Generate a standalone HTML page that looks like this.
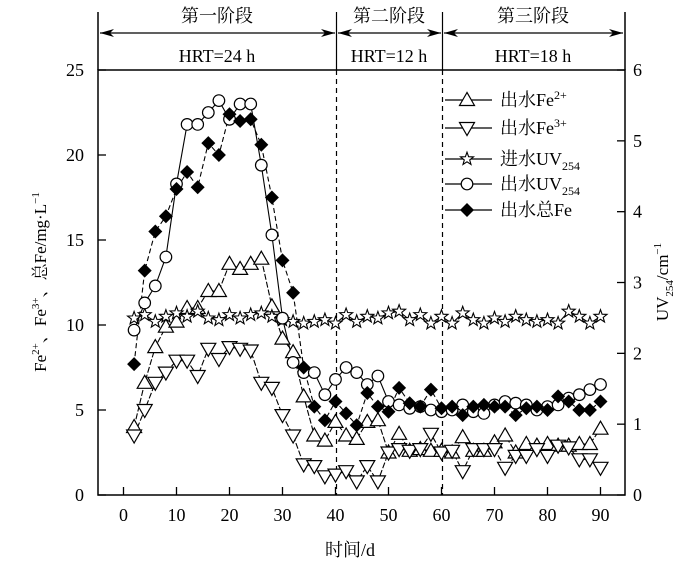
<!DOCTYPE html>
<html><head><meta charset="utf-8"><style>
body{margin:0;background:#fff}
svg{display:block}
text{font-family:"Liberation Serif","Noto Serif CJK SC","Noto Sans CJK SC",serif;fill:#000}
</style></head><body>
<svg id="s" width="700" height="568" viewBox="0 0 700 568" xmlns="http://www.w3.org/2000/svg">
<defs>
<marker id="ah" markerWidth="14" markerHeight="8" refX="14" refY="4" orient="auto-start-reverse" markerUnits="userSpaceOnUse"><path d="M0,0 L14,4 L0,8 L4,4 Z" fill="#000"/></marker>
</defs>
<g stroke="#000" stroke-width="1.5" fill="none">
<rect x="98" y="70" width="527" height="425"/>
<line x1="98" y1="12" x2="98" y2="70"/>
<line x1="625" y1="12" x2="625" y2="70"/>
<line x1="336.5" y1="12" x2="336.5" y2="70" stroke-width="1.2"/>
<line x1="442.5" y1="12" x2="442.5" y2="70" stroke-width="1.2"/>
<line x1="100" y1="33" x2="335" y2="33" stroke-width="1.2" marker-start="url(#ah)" marker-end="url(#ah)"/>
<line x1="338" y1="33" x2="441" y2="33" stroke-width="1.2" marker-start="url(#ah)" marker-end="url(#ah)"/>
<line x1="444" y1="33" x2="623" y2="33" stroke-width="1.2" marker-start="url(#ah)" marker-end="url(#ah)"/>
<line x1="336.5" y1="70" x2="336.5" y2="495" stroke-width="1.2" stroke-dasharray="5,4"/>
<line x1="442.5" y1="70" x2="442.5" y2="495" stroke-width="1.2" stroke-dasharray="5,4"/>
</g>
<g font-size="18" text-anchor="middle">
<text x="217" y="22">第一阶段</text>
<text x="389" y="22">第二阶段</text>
<text x="533" y="22">第三阶段</text>
<text x="217" y="62">HRT=24 h</text>
<text x="389" y="62">HRT=12 h</text>
<text x="533" y="62">HRT=18 h</text>
<text x="350" y="556">时间/d</text>
</g>
<g id="ax"></g>
<g id="data"></g>
<text transform="translate(46,282) rotate(-90)" font-size="17" text-anchor="middle">Fe<tspan font-size="11" dy="-7">2+</tspan><tspan dy="7">、Fe</tspan><tspan font-size="11" dy="-7">3+</tspan><tspan dy="7">、总Fe/mg·L</tspan><tspan font-size="11" dy="-7">−1</tspan></text>
<text transform="translate(668,282) rotate(-90)" font-size="17" text-anchor="middle">UV<tspan font-size="11" dy="5">254</tspan><tspan dy="-5">/cm</tspan><tspan font-size="11" dy="-7">−1</tspan></text>
<g font-size="18">
<text x="500" y="106">出水Fe<tspan font-size="12" dy="-7">2+</tspan></text>
<text x="500" y="134">出水Fe<tspan font-size="12" dy="-7">3+</tspan></text>
<text x="500" y="165">进水UV<tspan font-size="12" dy="5">254</tspan></text>
<text x="500" y="190">出水UV<tspan font-size="12" dy="5">254</tspan></text>
<text x="500" y="216">出水总Fe</text>
</g>
</svg>
<script>
const X=d=>123.5+5.3*d, Y=v=>495-17*v;
let h="";
for(let i=0;i<=90;i+=10){h+=`<line x1="${X(i)}" y1="495" x2="${X(i)}" y2="487" stroke="#000" stroke-width="1.3"/><text x="${X(i)}" y="521" font-size="18" text-anchor="middle">${i}</text>`;}
for(let v=0;v<=25;v+=5){h+=`<line x1="98" y1="${Y(v)}" x2="106" y2="${Y(v)}" stroke="#000" stroke-width="1.3"/><text x="84" y="${Y(v)+6}" font-size="18" text-anchor="end">${v}</text>`;}
for(let v=0;v<=6;v++){let y=495-70.83*v;h+=`<line x1="617" y1="${y}" x2="625" y2="${y}" stroke="#000" stroke-width="1.3"/><text x="633" y="${y+6}" font-size="18">${v}</text>`;}
document.getElementById("ax").innerHTML=h;
const fe2=[4.0,6.6,8.7,9.9,10.2,11.0,11.0,12.0,12.0,13.6,13.3,13.6,13.9,11.1,9.2,8.4,5.8,3.5,3.2,4.3,3.5,3.3,4.3,4.4,2.5,3.6,2.6,2.7,2.6,2.6,2.5,3.4,2.6,2.6,3.1,3.5,2.5,3.0,2.9,3.0,2.9,2.9,3.0,3.0,3.9];
const fe3=[3.5,5.0,6.6,7.2,7.9,7.9,7.0,8.6,8.0,8.7,8.6,8.5,6.6,6.3,4.7,3.5,1.8,1.7,1.1,1.2,1.4,0.8,1.7,0.8,2.5,2.7,2.6,2.7,3.6,2.5,2.6,1.4,2.7,2.7,2.7,1.6,2.3,2.3,2.7,2.3,2.9,2.8,2.1,2.1,1.6];
const uvin=[10.4,10.6,10.2,10.5,10.7,10.5,10.8,10.4,10.3,10.6,10.4,10.6,10.7,10.5,10.3,10.2,10.1,10.2,10.3,10.1,10.6,10.2,10.5,10.4,10.7,10.8,10.3,10.6,10.1,10.5,10.1,10.7,10.3,10.1,10.4,10.2,10.5,10.3,10.2,10.3,10.1,10.8,10.5,10.1,10.5];
const uvout=[9.7,11.3,12.3,14.0,18.3,21.8,21.8,22.5,23.2,22.1,23.0,23.0,19.4,15.3,10.4,7.8,7.2,7.2,5.9,6.8,7.5,7.2,6.5,7.0,5.5,5.3,5.1,5.2,5.0,4.9,5.0,5.3,4.9,4.8,5.3,5.5,5.4,5.3,5.0,5.2,5.3,5.7,5.9,6.2,6.5];
const tfe=[7.7,13.2,15.5,16.4,18.0,19.0,18.1,20.7,20.0,22.4,22.0,22.1,20.6,17.5,13.8,11.9,7.5,5.2,4.4,5.5,4.8,4.1,6.0,5.2,4.9,6.3,5.4,5.2,6.2,5.1,5.2,4.7,5.2,5.3,5.2,5.2,4.7,5.1,5.2,5.0,5.8,5.5,5.0,5.0,5.5];
function mk(t,x,y){
 if(t==0)return `<polygon points="${x},${y-7.5} ${x-7.5},${y+5.5} ${x+7.5},${y+5.5}" fill="#fff" stroke="#000" stroke-width="1.2"/>`;
 if(t==1)return `<polygon points="${x},${y+7.5} ${x-7.5},${y-5.5} ${x+7.5},${y-5.5}" fill="#fff" stroke="#000" stroke-width="1.2"/>`;
 if(t==2){let p=[];for(let k=0;k<10;k++){let r=k%2?2.8:6.8,a=-Math.PI/2+k*Math.PI/5;p.push((x+r*Math.cos(a)).toFixed(1)+","+(y+r*Math.sin(a)).toFixed(1));}return `<polygon points="${p.join(" ")}" fill="#fff" stroke="#000" stroke-width="1.1"/>`;}
 if(t==3)return `<circle cx="${x}" cy="${y}" r="5.8" fill="#fff" stroke="#000" stroke-width="1.2"/>`;
 return `<polygon points="${x},${y-7} ${x+7},${y} ${x},${y+7} ${x-7},${y}" fill="#000"/>`;
}
let g="";
const S=[[fe2,0,"6,2"],[fe3,1,"6,2"],[uvin,2,""],[uvout,3,""],[tfe,4,"5,3"]];
for(const [d,t,da] of S){
 let p=d.map((v,i)=>X(2+2*i).toFixed(1)+","+Y(v).toFixed(1)).join(" ");
 g+=`<polyline points="${p}" fill="none" stroke="#000" stroke-width="1.1" ${da?`stroke-dasharray="${da}"`:""}/>`;
}
for(const [d,t] of S){d.forEach((v,i)=>g+=mk(t,X(2+2*i),Y(v)));}
const ly=[100,128,159,184,210];
ly.forEach((y,t)=>{g+=`<line x1="445" y1="${y}" x2="492" y2="${y}" stroke="#000" stroke-width="1.3"/>`+mk(t,467,y);});
document.getElementById("data").innerHTML=g;
</script>
</body></html>
